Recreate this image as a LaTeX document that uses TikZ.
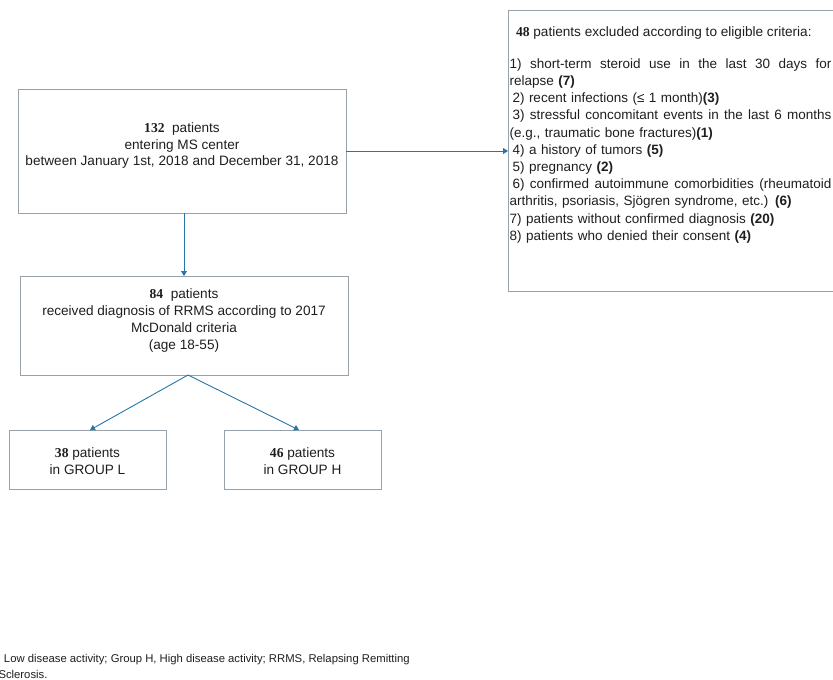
\documentclass[tikz,border=0pt]{standalone}
\usepackage{fontspec}
\setmainfont{Liberation Sans}
\newfontfamily\numfont{Liberation Serif}
\usetikzlibrary{arrows.meta}
\definecolor{boxgray}{RGB}{150,162,172}
\definecolor{arrowblue}{RGB}{38,118,165}
\definecolor{txtgray}{RGB}{30,30,30}
\newcommand{\bnum}[1]{{\numfont\bfseries #1}}
\newcommand{\bcnt}[1]{{\bfseries #1}}
\begin{document}
\begin{tikzpicture}[x=1pt,y=-1pt,
  box/.style={draw=boxgray,line width=0.9pt,inner sep=0pt,outer sep=0pt},
  txt/.style={inner sep=0pt,outer sep=0pt,text=txtgray},
  main/.style={txt,align=center,font=\fontsize{13.6}{16.9}\selectfont},
  arr/.style={draw=arrowblue,line width=0.9pt,-{Triangle[width=6pt,length=5pt]}}]
\useasboundingbox (0,0) rectangle (833,680);
% boxes
\node[box,minimum width=328pt,minimum height=124pt] (b1) at (182,151) {};
\node[box,minimum width=328pt,minimum height=99pt] (b2) at (184,325.5) {};
\node[box,minimum width=157pt,minimum height=59pt] (bl) at (87.5,459.5) {};
\node[box,minimum width=157pt,minimum height=59pt] (bh) at (302.5,459.5) {};
\node[box,minimum width=332pt,minimum height=281pt] (ex) at (674,150.5) {};
% texts
\node[main] (t1) at (182,145.5) {\bnum{132}\ \ patients\\entering MS center\\between January 1st, 2018 and December 31, 2018};
\node[main] (t2) at (184,320.5) {\bnum{84}\ \ patients\\received diagnosis of RRMS according to 2017\\McDonald criteria\\(age 18-55)};
\node[main] (tl) at (87.5,461.5) {\bnum{38} patients\\in GROUP L};
\node[main] (th) at (302.5,461.5) {\bnum{46} patients\\in GROUP H};
\node[txt,anchor=west,font=\fontsize{13.6}{17}\selectfont] (et) at (516,33) {\bnum{48} patients excluded according to eligible criteria:};
\node[txt,anchor=north west,align=left,text width=322pt,font=\fontsize{13.5}{17.2}\selectfont] (el) at (509.5,58.5) {%
\makebox[322pt][l]{1)\hfill short-term\hfill steroid\hfill use\hfill in\hfill the\hfill last\hfill 30\hfill days\hfill for}\\
relapse \bcnt{(7)}\\
\hspace{3pt}2) recent infections (≤ 1 month)\bcnt{(3)}\\
\makebox[322pt][l]{\hspace{3pt}3)\hfill stressful\hfill concomitant\hfill events\hfill in\hfill the\hfill last\hfill 6\hfill months}\\
(e.g., traumatic bone fractures)\bcnt{(1)}\\
\hspace{3pt}4) a history of tumors \bcnt{(5)}\\
\hspace{3pt}5) pregnancy \bcnt{(2)}\\
\makebox[322pt][l]{\hspace{3pt}6)\hfill confirmed\hfill autoimmune\hfill comorbidities\hfill (rheumatoid}\\
arthritis, psoriasis, Sjögren syndrome, etc.) \bcnt{(6)}\\
7) patients without confirmed diagnosis \bcnt{(20)}\\
8) patients who denied their consent \bcnt{(4)}};
\node[txt,anchor=west,font=\fontsize{11.3}{13}\selectfont] (f1) at (4,660) {Low disease activity; Group H, High disease activity; RRMS, Relapsing Remitting};
\node[txt,anchor=west,font=\fontsize{11.3}{13}\selectfont] (f2) at (-1.5,674) {Sclerosis.};
% connectors
\coordinate (split) at ([xshift=4pt]b2.south);
\draw[arr] (b1.east) -- (b1.east -| ex.west);
\draw[arr] (b2.north |- b1.south) -- (b2.north);
\draw[arr] (split) -- ([xshift=2.5pt]bl.north);
\draw[arr] (split) -- ([xshift=-3.5pt]bh.north);
\end{tikzpicture}
\end{document}
